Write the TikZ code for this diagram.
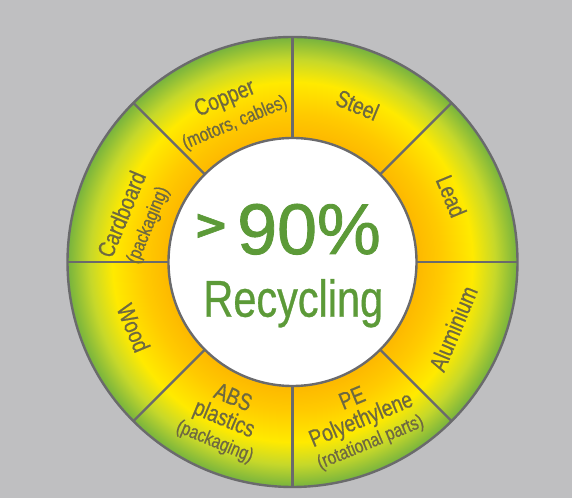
\documentclass[tikz,border=0pt]{standalone}
\usepackage{fontspec}
\setmainfont[FakeStretch=0.8, FakeBold=0.6]{Liberation Sans}
\newfontfamily\pctfont[FakeBold=1.2]{Liberation Sans}
\newfontfamily\gtfont[FakeBold=1.5]{DejaVu Sans}
\usepackage{tikz}

\definecolor{bggray}{HTML}{BFBFC1}
\definecolor{linegray}{HTML}{6A6A6C}
\definecolor{lblgray}{HTML}{6E6940}
\definecolor{txtgreen}{HTML}{5C9A38}
\definecolor{ringorange}{HTML}{FDB800}
\definecolor{ringamber}{HTML}{FFCA00}
\definecolor{ringyellow}{HTML}{FFEA00}
\definecolor{ringlime}{HTML}{C6D82A}
\definecolor{ringgreen}{HTML}{76B33E}

\pgfdeclareradialshading{ringshade}{\pgfpoint{0bp}{0bp}}{%
  color(0bp)=(ringorange); color(13.8bp)=(ringorange);
  color(16.5bp)=(ringamber); color(20bp)=(ringyellow);
  color(22.5bp)=(ringlime); color(25bp)=(ringgreen);
  color(50bp)=(ringgreen)}

\newcommand{\subtext}[1]{{\fontsize{19.5}{19}\selectfont #1}}

\begin{document}
\begin{tikzpicture}
    [x=1bp, y=1bp,
     rim/.style={circle, shading=ringshade, minimum size=450bp, inner sep=0pt, outer sep=0pt},
     hub/.style={circle, fill=white, minimum size=248bp, inner sep=0pt, outer sep=0pt},
     divider/.style={draw=linegray, line width=2.4bp},
     lbl/.style={text=lblgray, font=\fontsize{24}{23}\selectfont, align=center, inner sep=0pt},
     big/.style={text=txtgreen, inner sep=0pt}]
    \useasboundingbox[fill=bggray] (-292.5,-236) rectangle (279.5,262);
    % ring and centre
    \node[rim] (rim) at (0,0) {};
    \node[hub] (hub) at (0,0) {};
    \foreach \a in {0,45,...,315}
        \draw[divider] (hub.\a) -- (rim.\a);
    \draw[divider] (0,0) circle (225);
    \draw[divider] (0,0) circle (124);
    % segment labels
    \node[lbl, rotate=-67.5] (lead) at (22.5:172) {Lead};
    \node[lbl, rotate=-22.5] (steel) at (67.5:170) {Steel};
    \node[lbl, rotate=22.5] (copper) at (112.5:164) {Copper\\[2bp]\subtext{(motors, cables)}};
    \node[lbl, rotate=67.5] (cardboard) at (165:163) {Cardboard\\[3bp]\subtext{(packaging)}};
    \node[lbl, rotate=-67.5] (wood) at (202.5:172) {Wood};
    \node[lbl, rotate=-22.5] (abs) at (246.5:172) {ABS\\plastics\\\subtext{(packaging)}};
    \node[lbl, rotate=22.5] (pe) at (293.5:173) {PE\\Polyethylene\\\subtext{(rotational parts)}};
    \node[lbl, rotate=67.5] (aluminium) at (-22.5:174) {Aluminium};
    % centre text
    \node[big, font=\gtfont\bfseries\fontsize{42}{42}\selectfont] (gt) at (-81.5,35.5) {>};
    \node[big, anchor=base, font=\pctfont\fontsize{72}{72}\selectfont] (pct) at (16.5,8) {90\%};
    \node[big, anchor=base, font=\fontsize{52}{52}\selectfont] (recyc) at (0.8,-54.7) {Recycling};
\end{tikzpicture}
\end{document}
